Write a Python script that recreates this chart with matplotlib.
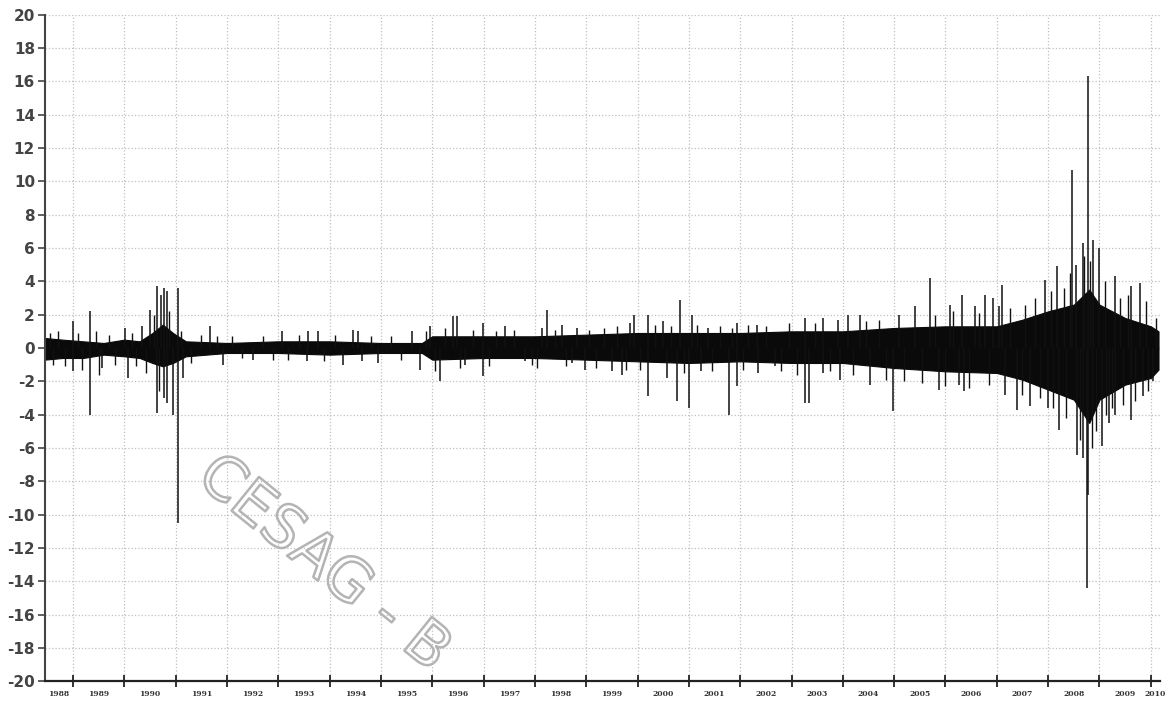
import matplotlib
matplotlib.use("Agg")
import matplotlib.pyplot as plt
import matplotlib.patheffects as pe
import numpy as np

# dense core of the daily series: (year, upper edge, lower edge)
band_year = [1988.45, 1988.8, 1989.2, 1989.6, 1990.0, 1990.3, 1990.55, 1990.75, 1990.95,
             1991.2, 1992.0, 1993.0, 1994.0, 1995.0, 1995.8, 1996.0, 1997.0, 1998.0,
             1999.0, 2000.0, 2001.0, 2002.0, 2003.0, 2004.0, 2005.0, 2006.0, 2007.0,
             2007.5, 2008.0, 2008.5, 2008.8, 2009.0, 2009.5, 2010.0, 2010.15]
band_upper = [0.6, 0.5, 0.4, 0.3, 0.5, 0.4, 0.9, 1.4, 0.9,
              0.4, 0.3, 0.4, 0.4, 0.3, 0.3, 0.7, 0.7, 0.7,
              0.8, 0.9, 0.9, 0.9, 1.0, 1.0, 1.2, 1.3, 1.3,
              1.7, 2.2, 2.6, 3.5, 2.6, 1.8, 1.3, 1.0]
band_lower = [-0.7, -0.6, -0.6, -0.4, -0.5, -0.6, -0.9, -1.1, -0.9,
              -0.5, -0.3, -0.3, -0.4, -0.3, -0.3, -0.7, -0.6, -0.6,
              -0.7, -0.8, -0.9, -0.8, -0.9, -0.9, -1.2, -1.4, -1.5,
              -1.9, -2.5, -3.1, -4.5, -3.1, -2.2, -1.8, -1.3]

# single days sticking out of the core
spike_year = [1989.00, 1989.00, 1989.33, 1989.33, 1989.56, 1990.01, 1990.07, 1990.34,
              1990.50, 1990.64, 1990.64, 1990.71, 1990.77, 1990.77, 1990.83, 1990.83,
              1990.95, 1991.04, 1991.04, 1991.14, 1991.67, 1991.92, 1992.51, 1993.07,
              1993.56, 1993.58, 1993.77, 1994.26, 1994.45, 1994.55, 1994.63, 1994.94,
              1995.60, 1995.76, 1995.95, 1996.15, 1996.40, 1996.48, 1996.63, 1996.98,
              1996.98, 1997.42, 1997.81, 1998.14, 1998.23, 1998.52, 1998.72, 1998.83,
              1998.97, 1999.50, 1999.70, 1999.85, 1999.94, 2000.20, 2000.20, 2000.49,
              2000.57, 2000.76, 2000.82, 2001.00, 2001.07, 2001.24, 2001.37, 2001.78,
              2001.93, 2001.93, 2002.32, 2002.34, 2002.67, 2003.26, 2003.26, 2003.35,
              2003.61, 2003.61, 2003.90, 2003.94, 2004.10, 2004.33, 2004.52, 2004.97,
              2005.10, 2005.40, 2005.69, 2005.88, 2006.08, 2006.27, 2006.33, 2006.37,
              2006.57, 2006.76, 2006.92, 2007.05, 2007.11, 2007.15, 2007.40, 2007.64,
              2007.93, 2007.99, 2008.18, 2008.22, 2008.47, 2008.55, 2008.57, 2008.67,
              2008.67, 2008.75, 2008.77, 2008.77, 2008.88, 2009.00, 2009.04, 2009.19,
              2009.31, 2009.31, 2009.62, 2009.62, 2009.78, 2009.84, 2010.05]
spike_value = [1.6, -1.4, 2.2, -4.0, -1.2, 1.2, -1.8, 1.3,
               2.3, 3.7, -3.9, 3.2, 3.6, -3.0, 3.4, -3.3,
               -4.0, 3.6, -10.5, -1.8, 1.3, -1.0, -0.7, 1.0,
               -0.8, 1.0, 1.0, -1.0, 1.1, 1.0, -0.8, -0.9,
               1.0, -1.3, 1.3, -2.0, 1.9, 1.9, -1.0, 1.5,
               -1.7, 1.3, -0.8, 1.2, 2.3, 1.4, -0.9, 1.2,
               -1.3, -1.4, -1.6, 1.5, 2.0, 2.0, -2.9, 1.6,
               -1.8, -3.2, 2.9, -3.6, 2.0, -1.4, 1.2, -4.0,
               1.5, -2.3, 1.4, -1.5, -1.1, 1.8, -3.3, -3.3,
               1.8, -1.5, 1.7, -1.9, 2.0, 2.0, -2.2, -3.8,
               2.0, 2.5, 4.2, -2.5, 2.6, -2.2, 3.2, -2.6,
               2.5, 3.2, 3.0, 2.5, 3.8, -2.8, -3.7, -3.5,
               4.1, -3.6, 4.9, -4.9, 10.7, 5.0, -6.4, 6.3,
               -6.6, -14.4, 16.3, -8.8, 6.5, 6.0, -5.9, -4.5,
               4.3, -4.0, 3.7, -4.3, 3.9, -2.9, -2.0]

# smaller excursions that make the ragged edge of the core
small_year = [1988.55, 1988.62, 1988.70, 1988.85, 1989.10, 1989.18, 1989.45, 1989.50,
              1989.70, 1989.82, 1990.15, 1990.22, 1990.42, 1990.58, 1990.68, 1990.88,
              1991.10, 1991.30, 1991.50, 1991.80, 1992.10, 1992.30, 1992.70, 1992.90,
              1993.20, 1993.40, 1993.90, 1994.10, 1994.80, 1995.20, 1995.40, 1995.88,
              1996.05, 1996.25, 1996.55, 1996.80, 1997.10, 1997.25, 1997.60, 1997.95,
              1998.05, 1998.40, 1998.60, 1999.05, 1999.20, 1999.35, 1999.60, 1999.78,
              2000.05, 2000.35, 2000.65, 2000.90, 2001.15, 2001.45, 2001.60, 2001.85,
              2002.05, 2002.15, 2002.50, 2002.80, 2002.95, 2003.10, 2003.45, 2003.75,
              2004.20, 2004.45, 2004.70, 2004.85, 2005.20, 2005.55, 2005.80, 2006.00,
              2006.15, 2006.45, 2006.65, 2006.85, 2007.25, 2007.50, 2007.55, 2007.75,
              2007.85, 2008.05, 2008.10, 2008.30, 2008.35, 2008.42, 2008.62, 2008.70,
              2008.82, 2008.85, 2008.93, 2009.10, 2009.12, 2009.25, 2009.40, 2009.45,
              2009.55, 2009.70, 2009.90, 2009.95, 2010.10]
small_value = [0.9, -1.0, 1.0, -1.1, 0.9, -1.3, 1.0, -1.6,
               0.8, -1.0, 0.9, -1.1, -1.5, 2.0, -2.6, 2.2,
               1.0, -0.9, 0.8, 0.7, 0.7, -0.6, 0.7, -0.7,
               -0.7, 0.8, -0.8, 0.8, 0.7, 0.7, -0.7, 1.0,
               -1.4, 1.2, -1.2, 1.1, -1.1, 1.0, 1.1, -1.0,
               -1.2, 1.1, -1.1, 1.1, -1.2, 1.2, 1.3, -1.3,
               -1.3, 1.4, 1.3, -1.5, 1.4, -1.4, 1.3, 1.2,
               -1.3, 1.4, 1.3, -1.4, 1.5, -1.6, 1.5, -1.4,
               -1.6, 1.6, 1.7, -1.9, -2.0, -2.1, 2.0, -2.3,
               2.2, -2.4, 2.1, -2.2, 2.4, -2.8, 2.6, 3.0,
               -3.0, 3.4, -3.6, 3.6, -4.2, 4.5, -5.5, 5.5,
               5.2, -6.0, -5.0, 4.0, -4.0, -3.6, 3.0, -3.4,
               3.2, -3.2, 2.8, -2.6, 1.8]

year_ticks = list(range(1989, 2011))
year_labels = [str(y) for y in range(1988, 2011)]

plt.rcParams['font.family'] = 'DejaVu Sans'
plt.rcParams['axes.unicode_minus'] = False

fig = plt.figure(figsize=(11.76, 7.03), dpi=100)
ax = fig.add_axes([0.038, 0.031, 0.948, 0.948])
ax.set_axisbelow(True)

# watermark of the scanned document: hollow letters, behind the data
fig.text(205 / 1176, 1 - 468 / 703, 'CESAG - B', fontsize=43, color='none',
         rotation=-39, rotation_mode='anchor', ha='left', va='center', zorder=0,
         path_effects=[pe.withStroke(linewidth=1.8, foreground='#b4b4b4')])
ax.patch.set_alpha(0)

ax.fill_between(band_year, band_lower, band_upper, color='#0a0a0a', lw=0.8)
ax.vlines(small_year, 0, small_value, color='#111111', lw=1.0)
ax.vlines(spike_year, 0, spike_value, color='#111111', lw=1.1)

x0, x1 = 1988.45, 2010.17
ax.set_xlim(x0, x1)
ax.set_ylim(-20, 20)
ax.set_yticks(np.arange(-20, 21, 2))
ax.tick_params(axis='y', labelsize=11, colors='#444444', length=5, width=1.2, pad=2)
for lab in ax.get_yticklabels():
    lab.set_fontweight('bold')

# year boundaries get the tick marks, the year names sit in between
ax.set_xticks(year_ticks)
ax.set_xticklabels([])
ax.tick_params(axis='x', direction='inout', length=8, width=1.3, colors='#222222')
edges = [x0] + year_ticks + [x1]
mids = [(a + b) / 2 for a, b in zip(edges[:-1], edges[1:])]
ax.set_xticks(mids, minor=True)
ax.set_xticklabels(year_labels, minor=True, fontsize=5.5, fontweight='bold',
                   family='DejaVu Serif', color='#333333')
ax.tick_params(axis='x', which='minor', length=0, pad=6)

ax.grid(True, which='major', linestyle=':', color='#c0c0c0', lw=0.9)
ax.spines['top'].set_visible(False)
ax.spines['right'].set_visible(False)
ax.spines['left'].set_color('#444444')
ax.spines['left'].set_linewidth(1.5)
ax.spines['bottom'].set_color('#222222')
ax.spines['bottom'].set_linewidth(1.6)

fig.savefig('out.png', dpi=100)
plt.close()
